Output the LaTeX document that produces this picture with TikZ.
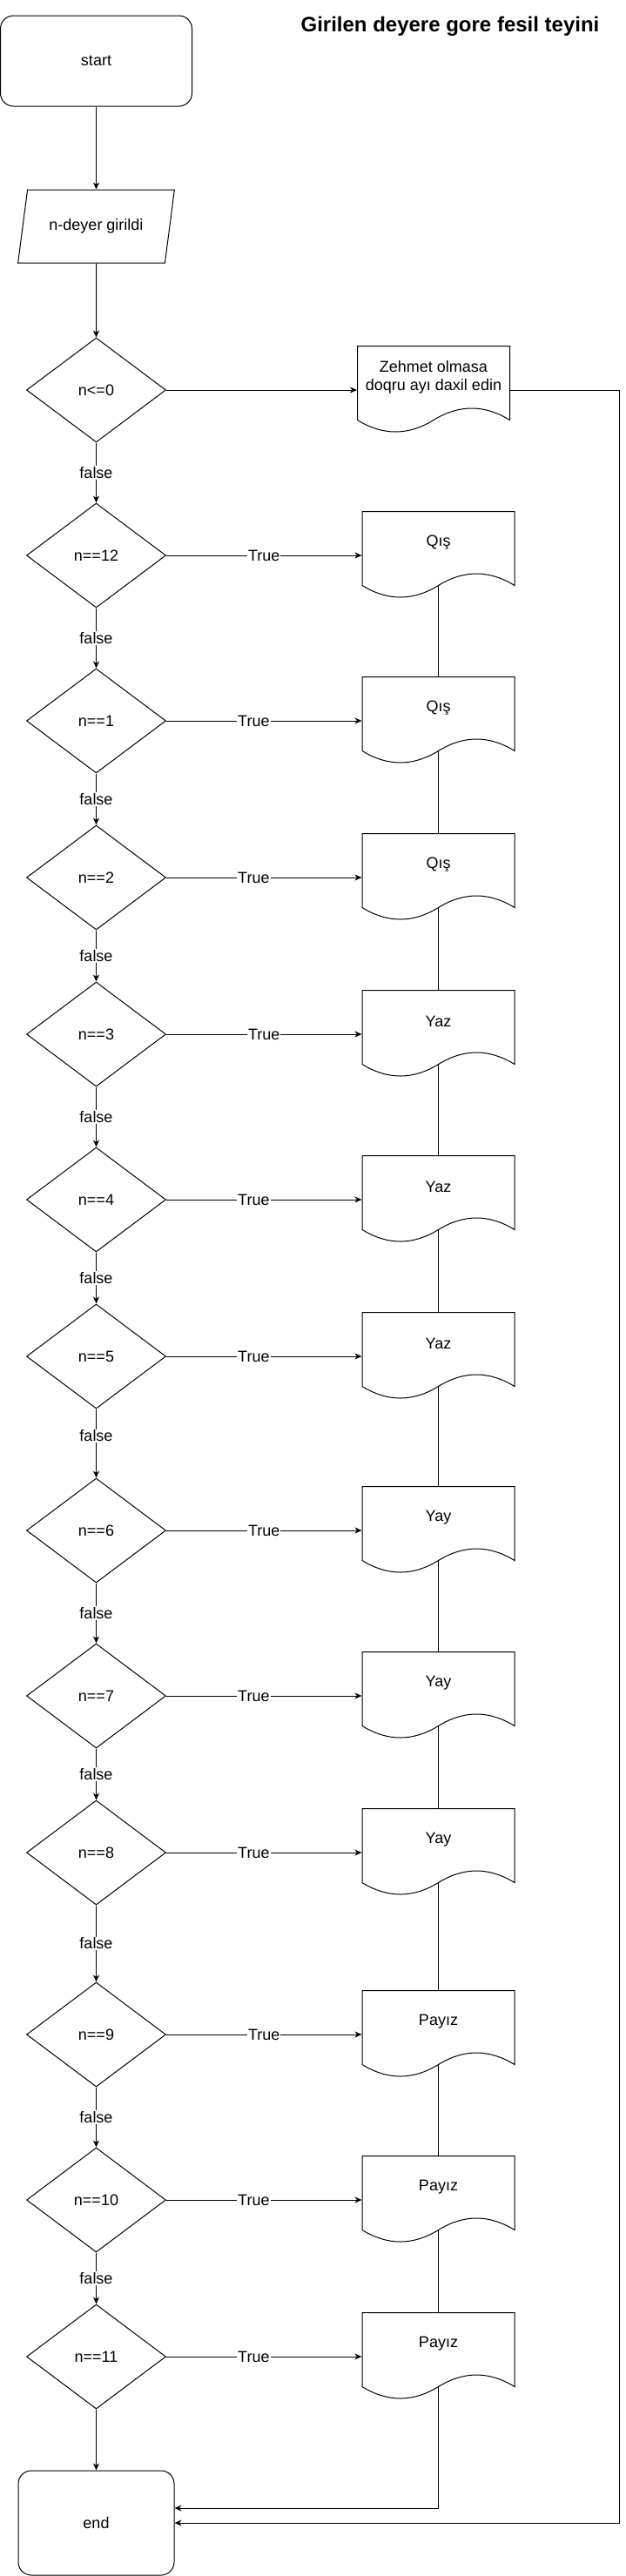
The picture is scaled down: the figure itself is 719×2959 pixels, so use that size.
\documentclass[tikz,border=0pt]{standalone}
\usepackage{fontspec}
\setmainfont{Liberation Sans}
\usepackage{tikz}
\usetikzlibrary{calc}
\usetikzlibrary{shapes.geometric, arrows.meta, positioning}

\newcommand{\docoutline}[1]{%
  \draw[shift={(#1.north)}] (-87.5,0) -- (87.5,0) -- (87.5,85)
    .. controls (58.33,67) and (29.17,67) .. (0,85)
    .. controls (-29.17,103) and (-58.33,103) .. (-87.5,85) -- cycle;}

\begin{document}
\begin{tikzpicture}[x=1pt,y=-1pt,line width=1pt,
                    font=\fontsize{18}{21}\selectfont,
                    >={Stealth[length=8pt,width=7pt,inset=2.5pt]},
                    term node/.style={rectangle,rounded corners=15pt,draw,inner sep=0pt},
                    io node/.style={trapezium,trapezium left angle=66,trapezium right angle=114,trapezium stretches=true,draw,minimum width=180pt,minimum height=84pt,inner sep=0pt},
                    cond node/.style={diamond,draw,minimum width=160pt,minimum height=120pt,inner sep=0pt},
                    doc node/.style={rectangle,minimum width=175pt,minimum height=70pt,inner sep=0pt,align=center},
                    edge label/.style={fill=white,inner sep=1pt}]
 \useasboundingbox (0,0) rectangle (719,2959);

 \node[font=\bfseries\fontsize{24}{28}\selectfont] (title) at (517,30) {Girilen deyere gore fesil teyini};

 \node[term node,minimum width=220pt,minimum height=104pt] (start) at (110.5,70) {start};
 \node[io node] (input) at (110.5,260) {n-deyer girildi};

 \node[cond node] (c0) at (110.5,448) {n<=0};
 \node[doc node] (d0) at (498,433) {Zehmet olmasa\\doqru ayı daxil edin};
 \docoutline{d0}

 \foreach \i/\cond/\yy/\season in {1/12/638/Qış, 2/1/828/Qış, 3/2/1008/Qış,
                                   4/3/1188/Yaz, 5/4/1378/Yaz, 6/5/1558/Yaz,
                                   7/6/1758/Yay, 8/7/1948/Yay, 9/8/2128/Yay,
                                   10/9/2337/Payız, 11/10/2527/Payız, 12/11/2707/Payız}
   {\node[cond node] (c\i) at (110.5,\yy) {n==\cond};
    \node[doc node] (d\i) at (503.5,\yy-15) {\season};
    \docoutline{d\i}}

 \node[term node,minimum width=179pt,minimum height=120pt] (end) at (110.5,2898) {end};

 \draw[->] (start) -- (input);
 \draw[->] (input) -- (c0);
 \draw[->] (c0.east) -- (c0.east -| d0.west);

 \foreach \i/\fp in {0/0.5, 1/0.5, 2/0.5, 3/0.5, 4/0.5, 5/0.5,
                     6/0.39, 7/0.5, 8/0.5, 9/0.5, 10/0.5, 11/0.5}
   {\pgfmathtruncatemacro{\j}{\i+1}
    \draw[->] (c\i.south) -- node[edge label,pos=\fp] {false} (c\j.north);}

 \foreach \i/\tp in {1/0.5, 2/0.447, 3/0.447, 4/0.5, 5/0.447, 6/0.447,
                     7/0.5, 8/0.447, 9/0.447, 10/0.5, 11/0.447, 12/0.447}
   \draw[->] (c\i.east) -- node[edge label,pos=\tp] {True} (c\i.east -| d\i.west);

 \foreach \i in {1,...,11}
   {\pgfmathtruncatemacro{\j}{\i+1}
    \draw ($(d\i.north)+(0,85)$) -- (d\j.north);}

 \draw[->] (c12.south) -- (end.north);

 \coordinate (endin) at ($(end.east)+(0,-17)$);
 \draw[->] ($(d12.north)+(0,85)$) |- (endin);

 \coordinate (loopc) at (711,448);
 \draw[->] (c0.east -| d0.east) -- (loopc) |- (end.east);

\end{tikzpicture}
\end{document}
